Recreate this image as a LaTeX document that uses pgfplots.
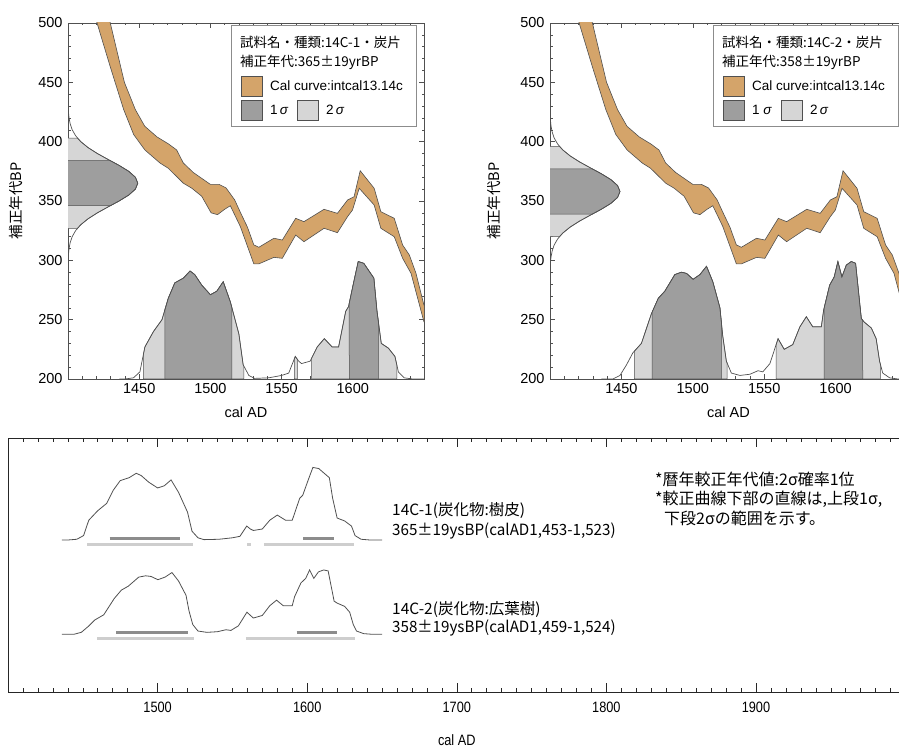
\documentclass[border=0pt]{standalone}
\usepackage{pgfplots}
\pgfplotsset{compat=1.18}
\usepackage{pgfplotstable}
\usepgfplotslibrary{fillbetween}
\usepackage{fontspec}
\setmainfont{Liberation Sans}
\newfontfamily\cjk{Noto Sans CJK JP}
\definecolor{tanc}{RGB}{212,164,106}
\definecolor{sigA}{RGB}{158,158,158}
\definecolor{sigB}{RGB}{214,214,214}
\definecolor{edge}{RGB}{80,80,80}
\definecolor{barA}{RGB}{140,140,140}
\definecolor{barB}{RGB}{206,206,206}

% calibration curve, upper and lower bounds
\pgfplotstableread{
x u
1415 573
1429.7 500
1439.6 450
1447.3 427
1453.9 413
1462.5 404
1470.7 398
1476.3 393
1481 382
1488 374
1494 369
1500 364
1506 364
1511 361
1517 351
1522 338
1526 328
1530.5 313
1534 311
1544.6 318.6
1550.5 317.1
1559.9 335.4
1565.7 332.6
1579.8 343
1589.2 339.6
1596.3 350.8
1600.9 353.6
1605.2 375.5
1615 360.7
1619.7 341
1629.1 335.4
1635 312.9
1639.7 304.5
1644.4 289
1650 262
}\calU
\pgfplotstableread{
x l
1415 522
1420.4 500
1429.7 463
1439.1 427
1446.1 406
1454 393
1464.6 382
1470.4 377.6
1476.3 370.6
1481 365
1486.9 360.8
1493.9 354
1500.5 340
1505 338.5
1510 343
1514 346
1521 328.5
1530.5 297
1534 297
1544.6 302.5
1550.5 301.7
1559.9 321.3
1565.7 315.7
1579.8 327
1589.2 323.3
1596.3 336.8
1599.8 342.4
1604.5 360.7
1615 346.6
1619.7 327
1629.1 319.9
1635 301.7
1640.9 289
1650 248
}\calL
% probability distribution, sample 14C-1
\pgfplotstableread{
x h
1436 0
1440 0
1446 1
1450.5 6
1454 27
1460 40
1466 50
1470.4 68
1475 81
1481 85
1485.7 91
1489 88
1494 79
1500 71
1504.5 74
1509 82
1514 65
1520 38
1523 12
1527 3
1531 0.5
1541 1
1550 3
1555 5
1559.6 19
1562 15
1564 13
1570 15
1575 27
1580 34
1585.5 27
1590 27
1595 57
1597 61
1600.7 82
1603.8 99
1607.7 97.5
1614.8 85
1617 57
1620 30
1625 26
1629.6 19
1632 6
1636 1
1642 0
1650 0
}\distA
% probability distribution, sample 14C-2
\pgfplotstableread{
x h
1436 0
1444 0
1449 3
1453.6 12
1458 22
1464 30
1471 55
1475.8 68
1480.4 74
1487.4 88
1492 90
1495.6 89
1500.2 84
1505 88
1509.6 95
1514 82
1519 60
1521 36
1523.5 15
1527 5
1533 3
1540 4
1545.7 7
1549 6
1554 13
1557 24
1559.7 34
1564 25
1570 29
1575 44
1579.5 52.5
1584 44
1590 44
1591.6 58
1595.8 79
1599 86
1601.6 99
1604.4 86
1607.5 96
1611 99
1614 97.5
1618 51
1620 48
1625 43
1628.4 34
1630.8 15
1633 5
1637.8 1
1643.6 0
1650 0
}\distB

\pgfplotsset{
  topax/.style={
    scale only axis, width=356pt, height=356pt, anchor=south west,
    xmin=1400, xmax=1650, ymin=200, ymax=500,
    xtick={1450,1500,...,1600}, ytick={200,250,...,500},
    minor xtick={1410,1420,...,1640}, minor ytick={210,220,...,490},
    tick align=inside, major tick length=5pt, minor tick length=2.5pt,
    axis line style={edge, line width=0.8pt}, tick style={edge, line width=0.5pt},
    ticklabel style={font=\fontsize{14.5}{16}\selectfont},
    yticklabel style={xshift=-2pt},
    xticklabel style={yshift=-1pt},
    /pgf/number format/assume math mode=true,
    /pgf/number format/1000 sep={},
    xlabel={cal AD}, ylabel={\cjk 補正年代BP},
    every axis x label/.style={at={(axis description cs:0.5,0)},anchor=center,yshift=-33pt,font=\fontsize{14.5}{16}\selectfont},
  },
}

\begin{document}
\begin{tikzpicture}[x=1pt,y=1pt]

% ================= top left =================
\begin{axis}[topax, at={(68pt,368pt)},
  every axis y label/.style={at={(axis description cs:-0.146,0.5)},rotate=90,anchor=center,font=\fontsize{14.5}{16}\selectfont}]
\addplot[edge, line width=0.6pt, name path=UA] table[x=x,y=u]{\calU};
\addplot[edge, line width=0.6pt, name path=LA] table[x=x,y=l]{\calL};
\addplot[fill=tanc] fill between[of=UA and LA];
\addplot[draw=none, name path=BA] coordinates {(1400,200) (1650,200)};
\addplot[edge, line width=0.7pt, name path=DA] table[x=x, y expr=200+\thisrow{h}]{\distA};
\addplot[fill=sigB, draw=edge, line width=0.5pt] fill between[of=DA and BA, soft clip={domain=1453:1523.5}];
\addplot[fill=sigB, draw=edge, line width=0.5pt] fill between[of=DA and BA, soft clip={domain=1559:1561}];
\addplot[fill=sigB, draw=edge, line width=0.5pt] fill between[of=DA and BA, soft clip={domain=1571:1631}];
\addplot[fill=sigA, draw=edge, line width=0.5pt] fill between[of=DA and BA, soft clip={domain=1468:1515}];
\addplot[fill=sigA, draw=edge, line width=0.5pt] fill between[of=DA and BA, soft clip={domain=1597.5:1618}];
% measured age 365 +- 19 on the BP axis
\addplot[fill=sigB, draw=edge, line width=0.5pt] coordinates {(1400,327) (1406.63,327) (1408.98,330) (1414.09,335) (1420.62,340) (1428.16,345) (1429.72,346) (1435.88,350) (1442.66,355) (1447.33,360) (1449,365) (1447.33,370) (1442.66,375) (1435.88,380) (1429.72,384) (1428.16,385) (1420.62,390) (1414.09,395) (1408.98,400) (1406.63,403) (1400,403)};
\addplot[fill=sigA, draw=edge, line width=0.5pt] coordinates {(1400,346) (1429.72,346) (1435.88,350) (1442.66,355) (1447.33,360) (1449,365) (1447.33,370) (1442.66,375) (1435.88,380) (1429.72,384) (1400,384)};
\addplot[edge, line width=0.7pt] coordinates {(1400.14,300) (1400.33,305) (1400.74,310) (1401.54,315) (1402.96,320) (1405.34,325) (1408.98,330) (1414.09,335) (1420.62,340) (1428.16,345) (1435.88,350) (1442.66,355) (1447.33,360) (1449,365) (1447.33,370) (1442.66,375) (1435.88,380) (1428.16,385) (1420.62,390) (1414.09,395) (1408.98,400) (1405.34,405) (1402.96,410) (1401.54,415) (1400.74,420) (1400.33,425) (1400.14,430)};
\end{axis}

% ================= top right =================
\begin{axis}[topax, at={(550pt,368pt)}, width=357pt,
  every axis y label/.style={at={(axis description cs:-0.158,0.5)},rotate=90,anchor=center,font=\fontsize{14.5}{16}\selectfont}]
\addplot[edge, line width=0.6pt, name path=UB] table[x=x,y=u]{\calU};
\addplot[edge, line width=0.6pt, name path=LB] table[x=x,y=l]{\calL};
\addplot[fill=tanc] fill between[of=UB and LB];
\addplot[draw=none, name path=BB] coordinates {(1400,200) (1650,200)};
\addplot[edge, line width=0.7pt, name path=DB] table[x=x, y expr=200+\thisrow{h}]{\distB};
\addplot[fill=sigB, draw=edge, line width=0.5pt] fill between[of=DB and BB, soft clip={domain=1459:1524}];
\addplot[fill=sigB, draw=edge, line width=0.5pt] fill between[of=DB and BB, soft clip={domain=1558.3:1631.3}];
\addplot[fill=sigA, draw=edge, line width=0.5pt] fill between[of=DB and BB, soft clip={domain=1471.5:1520}];
\addplot[fill=sigA, draw=edge, line width=0.5pt] fill between[of=DB and BB, soft clip={domain=1592:1619}];
% measured age 358 +- 19
\addplot[fill=sigB, draw=edge, line width=0.5pt] coordinates {(1400,320) (1406.63,320) (1408.98,323) (1414.09,328) (1420.62,333) (1428.16,338) (1429.72,339) (1435.88,343) (1442.66,348) (1447.33,353) (1449,358) (1447.33,363) (1442.66,368) (1435.88,373) (1429.72,377) (1428.16,378) (1420.62,383) (1414.09,388) (1408.98,393) (1406.63,396) (1400,396)};
\addplot[fill=sigA, draw=edge, line width=0.5pt] coordinates {(1400,339) (1429.72,339) (1435.88,343) (1442.66,348) (1447.33,353) (1449,358) (1447.33,363) (1442.66,368) (1435.88,373) (1429.72,377) (1400,377)};
\addplot[edge, line width=0.7pt] coordinates {(1400.14,293) (1400.33,298) (1400.74,303) (1401.54,308) (1402.96,313) (1405.34,318) (1408.98,323) (1414.09,328) (1420.62,333) (1428.16,338) (1435.88,343) (1442.66,348) (1447.33,353) (1449,358) (1447.33,363) (1442.66,368) (1435.88,373) (1428.16,378) (1420.62,383) (1414.09,388) (1408.98,393) (1405.34,398) (1402.96,403) (1401.54,408) (1400.74,413) (1400.33,418) (1400.14,423)};
\end{axis}

% ================= bottom =================
\begin{axis}[scale only axis, width=897.6pt, height=254pt, at={(8pt,55pt)}, anchor=south west,
  xmin=1400, xmax=2000, ymin=0, ymax=254,
  xtick={1500,1600,...,1900}, minor xtick={1410,1420,...,1990}, ytick=\empty,
  tick align=inside, major tick length=9pt, minor tick length=4pt,
  axis line style={black!85, line width=0.9pt}, tick style={black!85, line width=0.6pt},
  /pgf/number format/assume math mode=true,
  /pgf/number format/1000 sep={},
  xticklabel={\scalebox{0.85}[1]{\pgfmathprintnumber{\tick}}},
  xticklabel style={font=\fontsize{15}{16}\selectfont, yshift=-6pt},
  xlabel={\scalebox{0.85}[1]{cal AD}},
  every axis x label/.style={at={(axis description cs:0.5,0)},anchor=center,yshift=-48pt,font=\fontsize{15}{16}\selectfont}]
\addplot[edge, line width=0.8pt] table[x=x, y expr=152+0.733*\thisrow{h}]{\distA};
\addplot[barA, line width=3pt] coordinates {(1468,153.7) (1515,153.7)};
\addplot[barA, line width=3pt] coordinates {(1597.5,153.7) (1618,153.7)};
\addplot[barB, line width=3pt] coordinates {(1453,147.7) (1523.5,147.7)};
\addplot[barB, line width=3pt] coordinates {(1559.8,147.7) (1562.2,147.7)};
\addplot[barB, line width=3pt] coordinates {(1571,147.7) (1631,147.7)};
\addplot[edge, line width=0.8pt] table[x=x, y expr=57.7+0.65*\thisrow{h}]{\distB};
\addplot[barA, line width=3pt] coordinates {(1472.5,59.3) (1520.5,59.3)};
\addplot[barA, line width=3pt] coordinates {(1593,59.3) (1620,59.3)};
\addplot[barB, line width=3pt] coordinates {(1459.5,53.3) (1524.5,53.3)};
\addplot[barB, line width=3pt] coordinates {(1559,53.3) (1632,53.3)};
\end{axis}

% ================= legends =================
\begin{scope}
\draw[gray!90, line width=1pt, fill=white] (231,721) rectangle (416,620);
\node[anchor=base west, inner sep=0pt, font=\cjk\fontsize{13.5}{15}\selectfont] at (240,699) {試料名・種類:14C-1・炭片};
\node[anchor=base west, inner sep=0pt, font=\cjk\fontsize{13.5}{15}\selectfont] at (240,680) {補正年代:365±19yrBP};
\draw[edge, fill=tanc, line width=0.6pt] (241,671) rectangle (262,651);
\node[anchor=west, inner sep=0pt, font=\fontsize{13.5}{15}\selectfont] at (270,661) {Cal curve:intcal13.14c};
\draw[edge, fill=sigA, line width=0.6pt] (241,647) rectangle (262,627);
\node[anchor=west, inner sep=0pt, font=\fontsize{13.5}{15}\selectfont] at (270,637) {1\,\textit{σ}};
\draw[edge, fill=sigB, line width=0.6pt] (297,647) rectangle (318,627);
\node[anchor=west, inner sep=0pt, font=\fontsize{13.5}{15}\selectfont] at (326,637) {2\,\textit{σ}};
\end{scope}
\begin{scope}[xshift=482pt]
\draw[gray!90, line width=1pt, fill=white] (231,721) rectangle (416,620);
\node[anchor=base west, inner sep=0pt, font=\cjk\fontsize{13.5}{15}\selectfont] at (240,699) {試料名・種類:14C-2・炭片};
\node[anchor=base west, inner sep=0pt, font=\cjk\fontsize{13.5}{15}\selectfont] at (240,680) {補正年代:358±19yrBP};
\draw[edge, fill=tanc, line width=0.6pt] (241,671) rectangle (262,651);
\node[anchor=west, inner sep=0pt, font=\fontsize{13.5}{15}\selectfont] at (270,661) {Cal curve:intcal13.14c};
\draw[edge, fill=sigA, line width=0.6pt] (241,647) rectangle (262,627);
\node[anchor=west, inner sep=0pt, font=\fontsize{13.5}{15}\selectfont] at (270,637) {1 \textit{σ}};
\draw[edge, fill=sigB, line width=0.6pt] (299,647) rectangle (320,627);
\node[anchor=west, inner sep=0pt, font=\fontsize{13.5}{15}\selectfont] at (328,637) {2\,\textit{σ}};
\end{scope}

% ================= bottom panel texts =================
\begin{scope}[every node/.style={anchor=west, inner sep=0pt, font=\cjk\fontsize{15.5}{17}\selectfont}]
\node at (392,236) {14C-1(炭化物:樹皮)};
\node at (392,216) {\scalebox{0.98}[1]{365±19ysBP(calAD1,453-1,523)}};
\node at (392,137.7) {14C-2(炭化物:広葉樹)};
\node at (392,119.3) {\scalebox{0.98}[1]{358±19ysBP(calAD1,459-1,524)}};
\end{scope}
\begin{scope}[every node/.style={anchor=west, inner sep=0pt, font=\cjk\fontsize{16}{17}\selectfont}]
\node at (655,268) {*暦年較正年代値:2σ確率1位};
\node at (655,248) {*較正曲線下部の直線は,上段1σ,};
\node at (664,228.7) {下段2σの範囲を示す。};
\end{scope}

\pgfresetboundingbox
\useasboundingbox (0,0) rectangle (899,747);
\end{tikzpicture}
\end{document}
